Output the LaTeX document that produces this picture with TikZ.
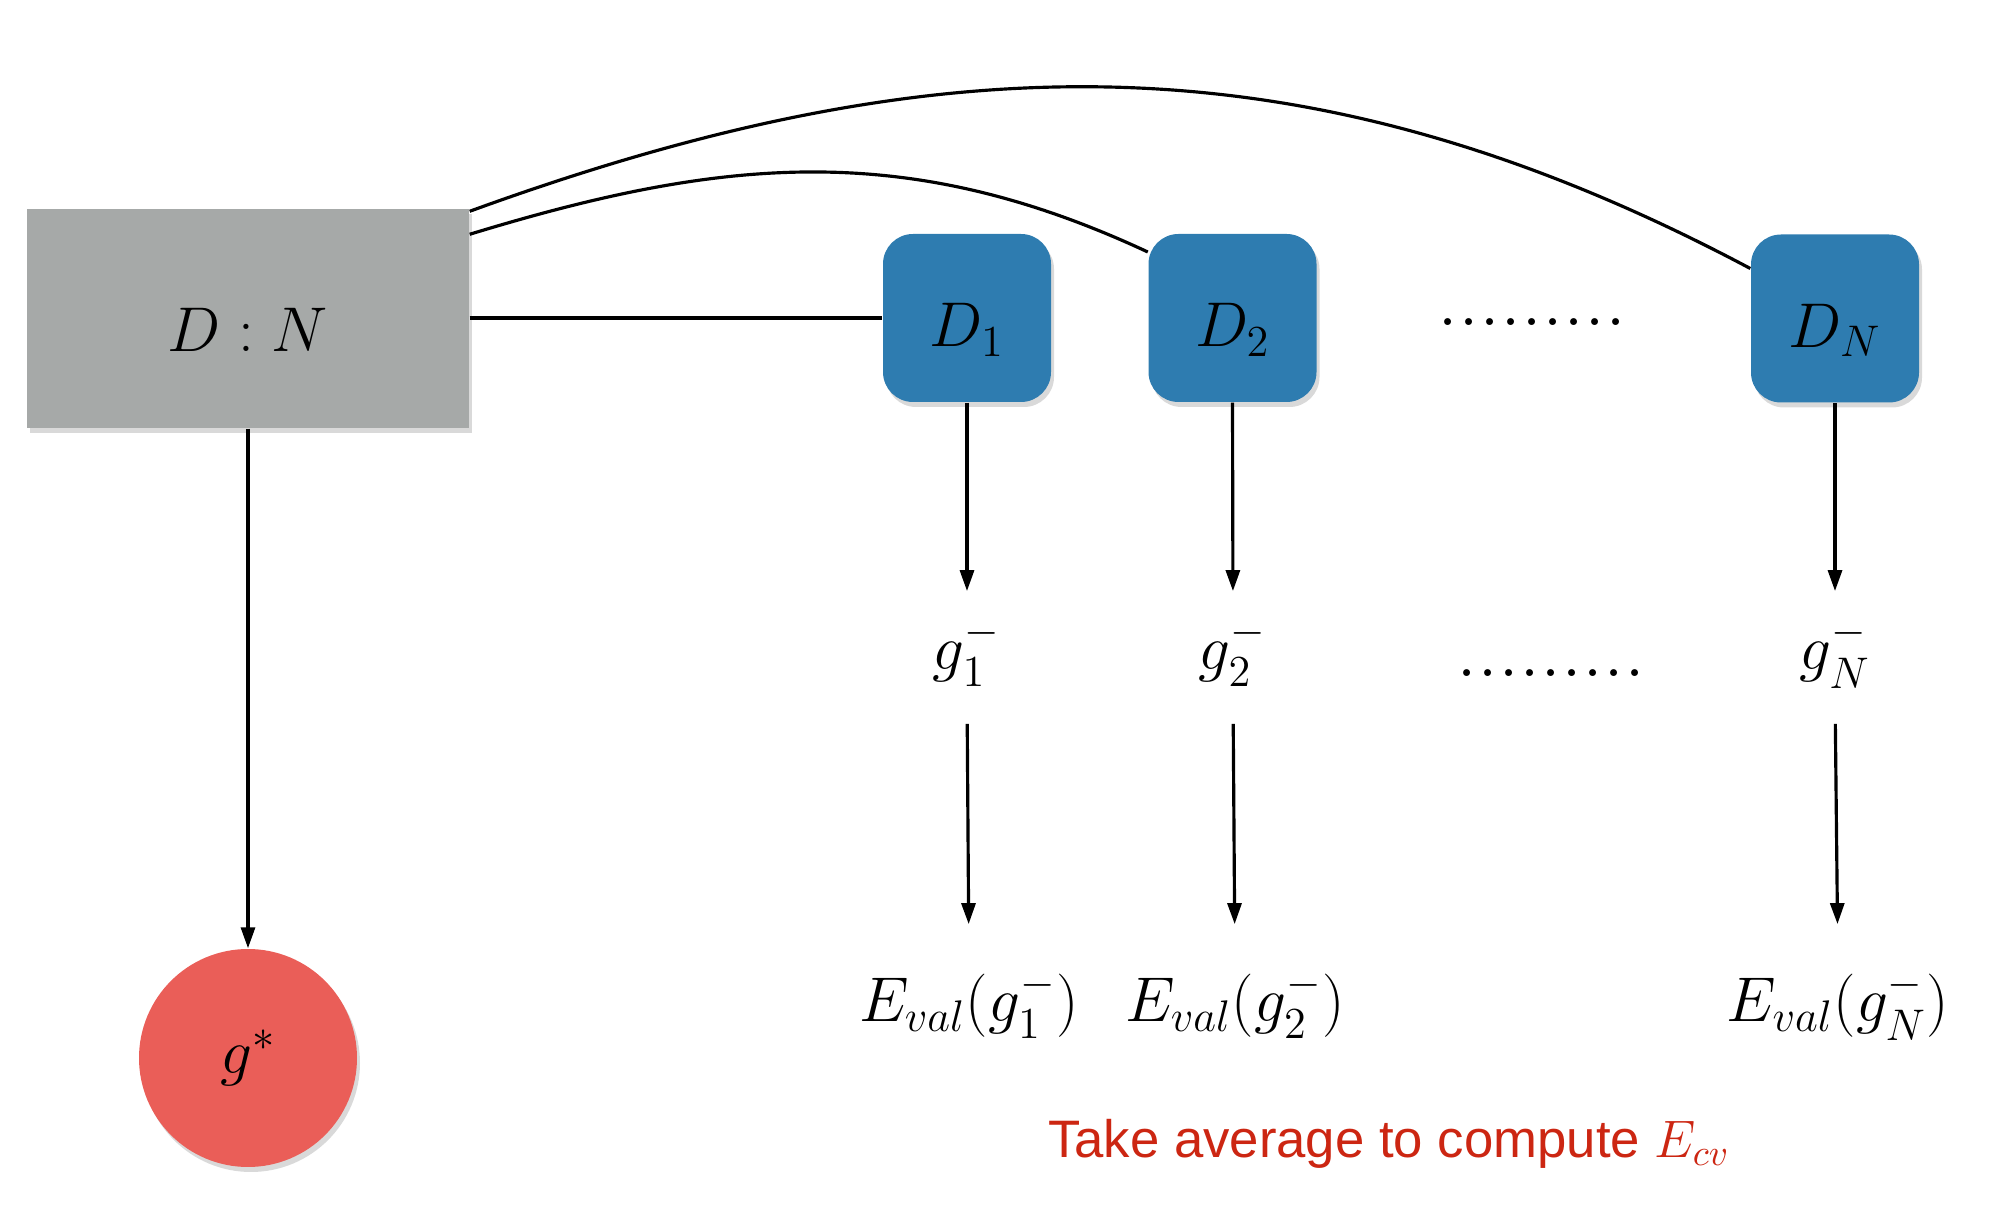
\RequirePackage{fix-cm}
\documentclass[tikz,border=0pt]{standalone}
\usepackage{amsmath}
\usepackage{fontspec}
\setsansfont{Liberation Sans}
\usetikzlibrary{positioning,arrows.meta,shadows}
\definecolor{cvgray}{RGB}{166,169,168}
\definecolor{cvblue}{RGB}{46,124,176}
\definecolor{cvred}{RGB}{234,94,88}
\definecolor{cvtext}{RGB}{204,38,18}
\newcommand{\cvmath}{\fontsize{18}{22}\selectfont}
\newcommand{\cvnote}{\sffamily\fontsize{15}{18}\selectfont}
\newcommand{\rowdots}{\hbox to 1.9cm{\cleaders\hbox to 0.211cm{\hss.\hss}\hfill}}
\tikzset{
  cv arrow/.style={-{Triangle[length=2.1mm,width=1.4mm]},line width=0.9pt,black},
  cv link/.style={line width=0.9pt,black},
  cv shadow/.style={drop shadow={shadow xshift=0.3mm,shadow yshift=-0.5mm,
    opacity=0.15,fill=black}},
  cv full/.style={fill=cvgray,minimum width=4.42cm,minimum height=2.19cm,
    inner sep=0pt,cv shadow,font=\cvmath,text height=19pt,text depth=0pt},
  cv fold/.style={fill=cvblue,rounded corners=3mm,minimum size=1.68cm,
    inner sep=0pt,cv shadow,font=\cvmath,text height=16.5pt,text depth=0pt},
  cv model/.style={circle,fill=cvred,minimum size=2.18cm,inner sep=0pt,
    cv shadow,font=\cvmath},
  cv label/.style={font=\cvmath,inner sep=0pt,text height=14pt,text depth=6pt,
    anchor=base},
  cv dots/.style={font=\fontsize{24}{28}\selectfont,inner sep=0pt},
  cv note/.style={font=\cvnote,text=cvtext,inner sep=0pt,anchor=base}
}
\begin{document}
\begin{tikzpicture}
  \useasboundingbox (0,0) rectangle (20,-12.28);
  % Whole data set and its folds.
  \node[cv full] (full) at (2.48,-3.185) {$D:N$};
  \node[cv fold] (d1) at (9.67,-3.18) {$D_1$};
  \node[cv fold] (d2) at (12.325,-3.18) {$D_2$};
  \node[cv fold] (dN) at (18.35,-3.185) {$D_N$};
  \node[cv dots] (topdots) at (15.32,-3.22) {\rowdots};

  \draw[cv link] (full.east |- d1.west) -- (d1.west);
  \draw[cv link] ([yshift=-0.26cm]full.north east) to[out=17,in=155]
    ([yshift=0.66cm]d2.west);
  \draw[cv link] ([yshift=-0.03cm]full.north east) to[out=20,in=152]
    ([yshift=0.5cm]dN.west);

  % Models trained without each fold.
  \node[cv label] (g1) at (9.67,-6.70) {$g_1^-$};
  \node[cv label] (g2) at (12.33,-6.70) {$g_2^-$};
  \node[cv label] (gN) at (18.35,-6.70) {$g_N^-$};
  \node[cv dots] (middots) at (15.51,-6.73) {\rowdots};

  \node[cv label] (e1) at (9.69,-10.22) {$E_{val}(g_1^-)$};
  \node[cv label] (e2) at (12.35,-10.22) {$E_{val}(g_2^-)$};
  \node[cv label] (eN) at (18.38,-10.22) {$E_{val}(g_N^-)$};

  \foreach \k in {1,2,N} {
    \draw[cv arrow,shorten >=0.29cm] (d\k.south) -- (g\k.north);
    \draw[cv arrow,shorten <=0.32cm,shorten >=0.48cm] (g\k.south) -- (e\k.north);
  }

  % Final model on all data.
  \node[cv model] (gstar) at (2.48,-10.58) {$g^*$};
  \draw[cv arrow] (full.south) -- (gstar.north);

  \node[cv note] (avg) at (13.89,-11.58) {Take average to compute $E_{cv}$};
\end{tikzpicture}
\end{document}
